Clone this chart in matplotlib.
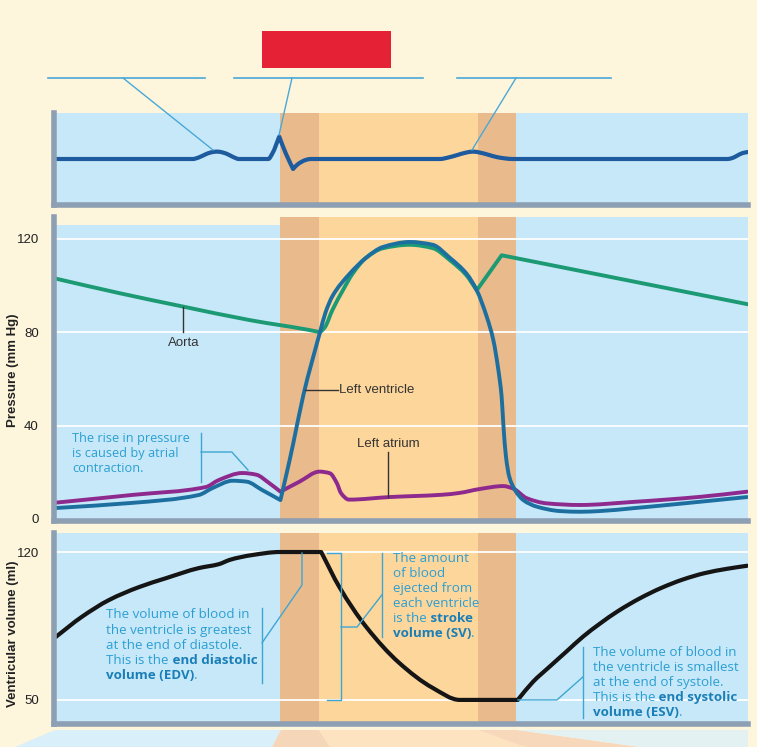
import matplotlib
matplotlib.use("Agg")
import matplotlib.pyplot as plt
import matplotlib.transforms as mtransforms
from matplotlib.lines import Line2D
from matplotlib.patches import Rectangle, PathPatch, Polygon
from matplotlib.path import Path

# ---------------- data ----------------
# time axis in ms (one cardiac cycle shown, 0-800 ms)
phase_edges = [0, 261, 305, 489, 533, 800]
phase_colors = ["#c7e8f8", "#e9ba8c", "#fdd69b", "#e9ba8c", "#c7e8f8"]

# ECG trace (arbitrary units)
ecg_t = [2, 160, 167, 174, 181, 188, 195, 202, 208, 213, 247, 252, 259.6, 267, 275.6,
         280, 285, 290, 296, 445, 455, 465, 475, 483, 491, 500, 510, 520, 528,
         776, 782, 788, 794, 800]
ecg_v = [0, 0, 0.08, 0.22, 0.33, 0.37, 0.32, 0.2, 0.07, 0, 0, 0.3, 1.12, 0.3, -0.5,
         -0.3, -0.15, -0.05, 0, 0, 0.08, 0.2, 0.32, 0.37, 0.32, 0.22, 0.1, 0.03, 0,
         0, 0.05, 0.18, 0.3, 0.35]
ecg_corners = [12, 14]

# Pressures (mm Hg)
aorta_t = [2, 75, 149, 226, 302, 306.6, 312, 321, 333, 344, 360, 379, 410, 437, 456,
           475, 487.3, 516, 800]
aorta_p = [103, 96.8, 91, 85.2, 80.4, 80, 82, 89.6, 98, 105, 112, 116, 117.5, 116, 111,
           104.6, 98, 113, 92]
aorta_corners = [5, 16, 17]

lv_t = [2, 90, 167, 183, 206, 222, 240, 261, 268.2, 275.8, 287.4, 306.6, 313, 321, 340.6,
        360, 378.8, 410, 436.5, 456, 475.8, 487.3, 498.8, 506.4, 512.2, 516, 517.9, 521,
        524.9, 531.4, 541, 556.4, 583.3, 606.3, 629, 667, 707, 745, 799]
lv_p = [4.7, 6.9, 10.3, 13.3, 16.4, 16, 12.4, 8.1, 19.6, 32.4, 53, 80, 88.5, 95.5, 105,
        112, 116.5, 118.7, 117.5, 112, 105, 98, 86.7, 76.7, 63.9, 52.4, 41, 26.7,
        18, 12.4, 8.1, 5.3, 3.4, 3.1, 3.4, 4.6, 6, 7.4, 9.4]
lv_corners = [7]

la_t = [2, 90, 175, 190, 217, 233, 248, 261, 283, 306, 318, 326, 331, 340, 387, 448,
        468, 490, 517.9, 529, 545, 568, 606, 667, 745, 799]
la_p = [7, 10.3, 13.7, 16.7, 19.7, 19, 15.4, 11.7, 16, 20.3, 19.6, 15.4, 11, 8.3, 9.4,
        10.4, 11.2, 12.8, 14.1, 13.1, 8.9, 6.7, 6, 7.3, 9.5, 11.7]
la_corners = [7]

# Ventricular volume (ml)
vol_t = [2, 32, 63.5, 98, 129, 167, 190.5, 195, 202, 229, 260, 308, 329, 360, 398,
         436.5, 467.7, 534.6, 552, 572, 591, 610, 629, 650, 675, 700, 725, 750, 775, 799]
vol_v = [79.8, 89.3, 97.3, 103.4, 107.6, 112.4, 114.3, 115, 116.2, 118.6, 120, 120,
         103.4, 84.5, 67.5, 55.7, 50, 50, 58.5, 66, 73, 80, 86, 92, 98, 103, 107, 110,
         112, 113.5]
vol_corners = [11, 17]

p_ticks = [0, 40, 80, 120]
v_ticks = [50, 120]
EDV, ESV = 120, 50

# ---------------- styling ----------------
W, H = 757, 747
BG = "#fdf5dc"
SPINE = "#8d9fb3"
ANN_FONT = ["Open Sans", "DejaVu Sans"]
LAB_FONT = ["Liberation Sans", "DejaVu Sans"]
NORM_C = "#2b9fd4"
BOLD_C = "#1a7fb8"
LEAD_C = "#3ea6d2"

fig = plt.figure(figsize=(W / 100, H / 100), dpi=100)
fig.patch.set_facecolor(BG)
pix = mtransforms.Affine2D().scale(1 / W, -1 / H).translate(0, 1) + fig.transFigure


def smooth_path(x, y, corners=()):
    """Monotone cubic (PCHIP-style) Bezier path through the given points."""
    n = len(x)
    h = [x[i + 1] - x[i] for i in range(n - 1)]
    d = [(y[i + 1] - y[i]) / h[i] for i in range(n - 1)]
    mL, mR = [0.0] * n, [0.0] * n
    for i in range(n):
        if i == 0:
            m = d[0]
        elif i == n - 1:
            m = d[-1]
        elif d[i - 1] * d[i] <= 0:
            m = 0.0
        else:
            w1, w2 = 2 * h[i] + h[i - 1], h[i] + 2 * h[i - 1]
            m = (w1 + w2) / (w1 / d[i - 1] + w2 / d[i])
        mL[i] = mR[i] = m
        if i in corners:
            mL[i], mR[i] = d[i - 1], d[i]
    verts, codes = [(x[0], y[0])], [Path.MOVETO]
    for i in range(n - 1):
        verts += [(x[i] + h[i] / 3, y[i] + mR[i] * h[i] / 3),
                  (x[i + 1] - h[i] / 3, y[i + 1] - mL[i + 1] * h[i] / 3),
                  (x[i + 1], y[i + 1])]
        codes += [Path.CURVE4] * 3
    return Path(verts, codes)


def draw_curve(ax, x, y, color, lw, corners=(), z=3):
    ax.add_patch(PathPatch(smooth_path(x, y, corners), facecolor="none", edgecolor=color,
                           lw=lw, capstyle="round", joinstyle="round", zorder=z))


def add_ax(top, bottom, left=54, right=748):
    return fig.add_axes([left / W, 1 - bottom / H, (right - left) / W, (bottom - top) / H])


def style_panel(ax):
    ax.set_xlim(0, 800)
    for i in range(len(phase_edges) - 1):
        ax.axvspan(phase_edges[i], phase_edges[i + 1], color=phase_colors[i], lw=0, zorder=0.5)
    for s in ["top", "right"]:
        ax.spines[s].set_visible(False)
    for s in ["left", "bottom"]:
        ax.spines[s].set_color(SPINE)
        ax.spines[s].set_linewidth(4)
        ax.spines[s].set_zorder(5)
    ax.set_xticks([])
    ax.set_facecolor("none")


# bottom decorative rays under the last panel
for pts, col in [
    ([(15, 747), (55, 730), (281, 730), (272, 747)], "#d9eff9"),
    ([(272, 747), (281, 730), (319, 730), (330, 747)], "#f6d6b8"),
    ([(330, 747), (319, 730), (478, 730), (525, 747)], "#fde3bf"),
    ([(525, 747), (478, 730), (517, 730), (640, 747)], "#f7d8bb"),
    ([(640, 747), (517, 730), (748, 730), (748, 747)], "#e3f1f3"),
]:
    fig.add_artist(Polygon(pts, closed=True, transform=pix, facecolor=col, edgecolor="none", zorder=0))

# ---------- ECG panel ----------
ax_e = add_ax(113, 205)
style_panel(ax_e)
ax_e.set_ylim(-2.3, 2.3)
ax_e.set_yticks([])
draw_curve(ax_e, ecg_t, ecg_v, "#1d5a9e", 3, ecg_corners)

# header labels (lines + leaders)
for x0, x1 in [(48, 205), (234, 423), (457, 611)]:
    fig.add_artist(Line2D([x0, x1], [78, 78], transform=pix, color="#4aa8d8", lw=1.2))
for (xa, ya), (xb, yb) in [((123, 78), (213, 150)), ((292, 78), (279, 135)), ((516, 78), (472, 150))]:
    fig.add_artist(Line2D([xa, xb], [ya, yb], transform=pix, color="#4aa8d8", lw=1.0))
fig.add_artist(Rectangle((262, 31), 129, 37, transform=pix, facecolor="#e52235", edgecolor="none"))

# ---------- Pressure panel ----------
ax_p = add_ax(217, 521)
style_panel(ax_p)
ax_p.set_ylim(-0.86, 129.4)
ax_p.fill_between([0, phase_edges[1]], 126, 129.4, color=BG, lw=0, zorder=0.6)
for v in p_ticks[1:]:
    ax_p.axhline(v, color="white", lw=1.3, zorder=1)
ax_p.set_yticks(p_ticks)
ax_p.tick_params(axis="y", length=0, pad=11, labelsize=9.5, labelcolor="#222")
for lab in ax_p.get_yticklabels():
    lab.set_family(LAB_FONT)

draw_curve(ax_p, aorta_t, aorta_p, "#1b9a74", 2.8, aorta_corners, z=3)
draw_curve(ax_p, la_t, la_p, "#8e2a8e", 2.8, la_corners, z=3)
draw_curve(ax_p, lv_t, lv_p, "#1d6fa0", 2.8, lv_corners, z=4)

lab_kw = dict(fontsize=9.5, family=LAB_FONT, color="#333")
ax_p.plot([149, 149], [91, 80], color="#333", lw=1, zorder=6)
ax_p.text(149, 75.4, "Aorta", ha="center", va="center", **lab_kw)
ax_p.plot([289, 327], [55.3, 55.3], color="#333", lw=1, zorder=6)
ax_p.text(329, 55.3, "Left ventricle", ha="left", va="center", **lab_kw)
ax_p.plot([385, 385], [28.7, 9.4], color="#333", lw=1, zorder=6)
ax_p.text(385, 32.1, "Left atrium", ha="center", va="center", **lab_kw)

ann_kw = dict(fontsize=9.2, family=ANN_FONT, color=NORM_C)
for txt, yv in zip(["The rise in pressure", "is caused by atrial", "contraction."], [33.0, 26.6, 20.2]):
    ax_p.text(20.7, yv, txt, ha="left", va="baseline", **ann_kw)
ax_p.plot([169.5, 169.5], [36.9, 15.9], color=LEAD_C, lw=1, zorder=6)
ax_p.plot([169.5, 205, 223.6], [28.7, 28.7, 21], color=LEAD_C, lw=1, zorder=6)

fig.text(13 / W, 1 - 370 / H, "Pressure (mm Hg)", rotation=90, ha="center", va="center",
         fontsize=9.5, fontweight="bold", family=LAB_FONT, color="#222")

# ---------- Volume panel ----------
ax_v = add_ax(533, 724)
style_panel(ax_v)
ax_v.set_ylim(38.6, 129)
for v in v_ticks:
    ax_v.axhline(v, color="white", lw=1.3, zorder=1)
ax_v.set_yticks(v_ticks)
ax_v.tick_params(axis="y", length=0, pad=11, labelsize=9.5, labelcolor="#222")
for lab in ax_v.get_yticklabels():
    lab.set_family(LAB_FONT)
draw_curve(ax_v, vol_t, vol_v, "#151515", 3, vol_corners, z=4)

fig.text(13 / W, 1 - 634 / H, "Ventricular volume (ml)", rotation=90, ha="center", va="center",
         fontsize=9.5, fontweight="bold", family=LAB_FONT, color="#222")

ANN_SIZE = 9.6


def rich_line(ax, x, y, parts):
    prev = None
    for txt, bold in parts:
        kw = dict(fontsize=ANN_SIZE, family=ANN_FONT, color=BOLD_C if bold else NORM_C,
                  fontweight="bold" if bold else "normal")
        if prev is None:
            prev = ax.text(x, y, txt, ha="left", va="baseline", zorder=7, **kw)
        else:
            prev = ax.annotate(txt, xy=(1, 0), xycoords=prev, ha="left", va="bottom", zorder=7, **kw)


def rich_block(ax, x, ys, lines):
    for y, parts in zip(ys, lines):
        rich_line(ax, x, y, parts)


# EDV
rich_block(ax_v, 60, [88.8, 81.2, 74.1, 67.0, 59.9], [
    [("The volume of blood in", False)],
    [("the ventricle is greatest", False)],
    [("at the end of diastole.", False)],
    [("This is the", False), (" end diastolic", True)],
    [("volume (EDV)", True), (".", False)],
])
ax_v.plot([239.8, 239.8], [93.5, 58], color=LEAD_C, lw=1, zorder=6)
ax_v.plot([239.8, 285.9, 285.9], [77, 104.4, EDV - 0.5], color=LEAD_C, lw=1, zorder=6)

# SV bracket
ax_v.plot([314.7, 330.8, 330.8, 314.7], [EDV - 0.5, EDV - 0.5, ESV, ESV], color=LEAD_C, lw=1, zorder=6)
rich_block(ax_v, 390.8, [115.3, 108.2, 101.1, 94.0, 86.9, 79.8], [
    [("The amount", False)],
    [("of blood", False)],
    [("ejected from", False)],
    [("each ventricle", False)],
    [("is the", False), (" stroke", True)],
    [("volume (SV)", True), (".", False)],
])
ax_v.plot([378, 378], [EDV - 0.5, 79.8], color=LEAD_C, lw=1, zorder=6)
ax_v.plot([378, 349.3, 330.8], [99.7, 84.5, 84.5], color=LEAD_C, lw=1, zorder=6)

# ESV
rich_block(ax_v, 621, [70.8, 63.7, 56.6, 49.5, 42.4], [
    [("The volume of blood in", False)],
    [("the ventricle is smallest", False)],
    [("at the end of systole.", False)],
    [("This is the", False), (" end systolic", True)],
    [("volume (ESV)", True), (".", False)],
])
ax_v.plot([609.8, 609.8], [75, 41.5], color=LEAD_C, lw=1, zorder=6)
ax_v.plot([609.8, 579.8, 535], [60.9, ESV, ESV], color=LEAD_C, lw=1, zorder=6)

fig.savefig("out.png", dpi=100, facecolor=BG)
